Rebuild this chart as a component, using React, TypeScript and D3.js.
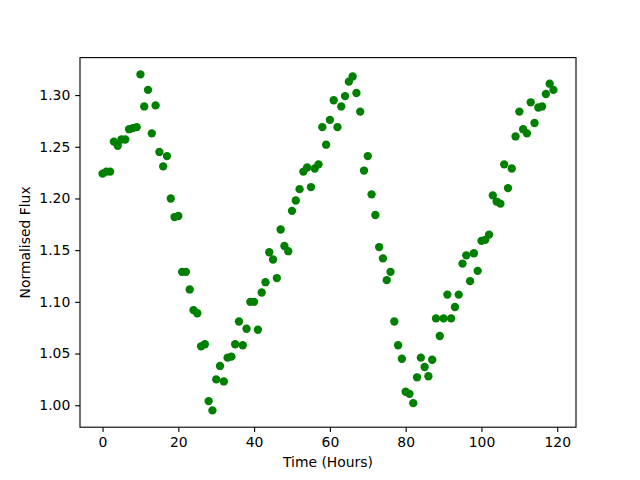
import React from "react";
import * as d3 from "d3";

const MARGIN = { TOP: 57.6, BOTTOM: 52.8, LEFT: 80, RIGHT: 64 };
const WIDTH = 640 - MARGIN.LEFT - MARGIN.RIGHT;
const HEIGHT = 480 - MARGIN.TOP - MARGIN.BOTTOM;

// hours since start of observation
const hours = d3.range(0, 120);

const flux = [
  1.224, 1.226, 1.226, 1.255, 1.251, 1.257, 1.257, 1.267, 1.268, 1.269,
  1.320, 1.289, 1.305, 1.263, 1.290, 1.245, 1.231, 1.241, 1.200, 1.182,
  1.183, 1.129, 1.129, 1.112, 1.092, 1.089, 1.057, 1.059, 1.004, 0.995,
  1.025, 1.038, 1.023, 1.046, 1.047, 1.059, 1.081, 1.058, 1.074, 1.100,
  1.100, 1.073, 1.109, 1.119, 1.148, 1.141, 1.123, 1.170, 1.154, 1.149,
  1.188, 1.198, 1.209, 1.226, 1.230, 1.211, 1.229, 1.233, 1.269, 1.252,
  1.276, 1.295, 1.269, 1.289, 1.299, 1.313, 1.318, 1.302, 1.284, 1.227,
  1.241, 1.204, 1.184, 1.153, 1.142, 1.121, 1.129, 1.081, 1.058, 1.045,
  1.013, 1.011, 1.002, 1.027, 1.046, 1.037, 1.028, 1.044, 1.084, 1.067,
  1.084, 1.107, 1.084, 1.095, 1.107, 1.137, 1.145, 1.120, 1.147, 1.130,
  1.159, 1.160, 1.165, 1.203, 1.197, 1.195, 1.233, 1.210, 1.229, 1.260,
  1.284, 1.267, 1.263, 1.293, 1.273, 1.288, 1.289, 1.301, 1.311, 1.305,
];

const xTicks = [0, 20, 40, 60, 80, 100, 120];
const yTicks = [1.0, 1.05, 1.1, 1.15, 1.2, 1.25, 1.3];

const FONT = "DejaVu Sans, sans-serif";

export default function App() {
  const ref = React.useRef<SVGSVGElement>(null);

  React.useEffect(() => {
    const data = hours.map((h, i) => ({ h, f: flux[i] }));
    const pad = (lo: number, hi: number) => [lo - (hi - lo) * 0.05, hi + (hi - lo) * 0.05];

    const [xMin, xMax] = d3.extent(hours) as [number, number];
    const [yMin, yMax] = d3.extent(flux) as [number, number];

    const x = d3.scaleLinear().domain(pad(xMin, xMax)).range([0, WIDTH]);
    const y = d3.scaleLinear().domain(pad(yMin, yMax)).range([HEIGHT, 0]);

    const root = d3.select(ref.current);
    root.selectAll("*").remove();

    root.append("rect").attr("width", 640).attr("height", 480).attr("fill", "white");

    const svg = root
      .append("g")
      .attr("transform", `translate(${MARGIN.LEFT},${MARGIN.TOP})`);

    svg
      .selectAll("circle")
      .data(data)
      .enter()
      .append("circle")
      .attr("cx", (d) => x(d.h))
      .attr("cy", (d) => y(d.f))
      .attr("r", 4.17)
      .attr("fill", "#008000");

    const xAxis = d3
      .axisBottom(x)
      .tickValues(xTicks)
      .tickSize(4.86)
      .tickPadding(4.86)
      .tickFormat(d3.format("d"));
    const gx = svg.append("g").attr("transform", `translate(0, ${HEIGHT})`).call(xAxis);

    const yAxis = d3
      .axisLeft(y)
      .tickValues(yTicks)
      .tickSize(4.86)
      .tickPadding(4.86)
      .tickFormat(d3.format(".2f"));
    const gy = svg.append("g").call(yAxis);

    [gx, gy].forEach((g) => {
      g.select(".domain").remove();
      g.selectAll("line").attr("stroke", "black").attr("stroke-width", 1.11);
      g.selectAll("text")
        .attr("font-family", FONT)
        .attr("font-size", 13.9)
        .attr("fill", "black");
    });

    // frame
    svg
      .append("rect")
      .attr("width", WIDTH)
      .attr("height", HEIGHT)
      .attr("fill", "none")
      .attr("stroke", "black")
      .attr("stroke-width", 1.11);

    svg
      .append("text")
      .attr("x", WIDTH / 2)
      .attr("y", HEIGHT + 39.5)
      .attr("text-anchor", "middle")
      .attr("font-family", FONT)
      .attr("font-size", 13.9)
      .text("Time (Hours)");

    svg
      .append("text")
      .attr("x", -HEIGHT / 2)
      .attr("y", -50)
      .attr("text-anchor", "middle")
      .attr("transform", "rotate(-90)")
      .attr("font-family", FONT)
      .attr("font-size", 13.9)
      .text("Normalised Flux");
  }, []);

  return (
    <svg
      ref={ref}
      width={640}
      height={480}
      style={{ position: "absolute", left: 0, top: 0 }}
    />
  );
}
